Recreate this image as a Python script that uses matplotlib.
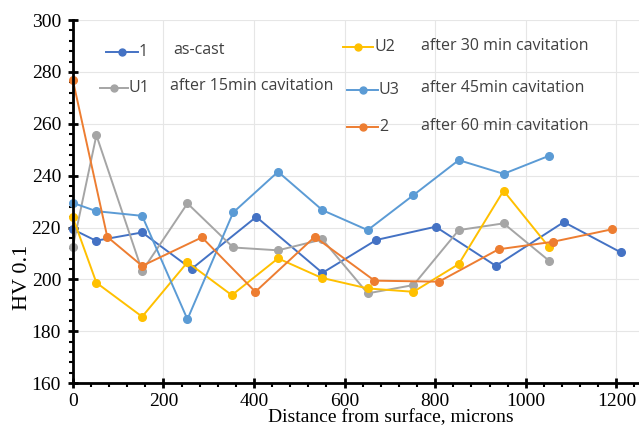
import numpy as np
import matplotlib.pyplot as plt
from matplotlib.lines import Line2D
from matplotlib.ticker import MultipleLocator

# readings (distance in microns, HV 0.1)
x_1 = [0, 51, 153, 262, 405, 551, 670, 801, 934, 1084, 1210]
hv_1 = [219.3, 214.9, 218.1, 204.0, 224.1, 202.5, 215.2, 220.3, 205.2, 222.1, 210.4]

x_u1 = [0, 52, 153, 253, 354, 453, 551, 651, 752, 852, 951, 1052]
hv_u1 = [212.6, 255.6, 203.2, 229.3, 212.3, 211.2, 215.4, 194.6, 197.8, 219.0, 221.6, 207.1]

x_u2 = [0, 52, 153, 253, 351, 453, 549, 651, 752, 852, 951, 1052]
hv_u2 = [223.9, 198.7, 185.6, 206.6, 193.9, 208.1, 200.6, 196.5, 195.2, 205.9, 234.2, 212.3]

x_u3 = [0, 52, 153, 253, 354, 453, 551, 651, 752, 852, 951, 1052]
hv_u3 = [229.5, 226.3, 224.5, 184.6, 225.8, 241.5, 226.7, 219.0, 232.5, 246.0, 240.7, 247.7]

x_2 = [0, 76, 153, 285, 403, 534, 666, 808, 940, 1060, 1190]
hv_2 = [276.9, 216.4, 205.2, 216.2, 195.2, 216.4, 199.5, 199.1, 211.6, 214.5, 219.3]

names = ["1", "U1", "U2", "U3", "2"]
notes = ["as-cast", "after 15min cavitation", "after 30 min cavitation",
         "after 45min cavitation", "after 60 min cavitation"]
colors = ["#4472C4", "#A5A5A5", "#FFC000", "#5B9BD5", "#ED7D31"]

series = [(x_1, hv_1), (x_u1, hv_u1), (x_u2, hv_u2), (x_u3, hv_u3), (x_2, hv_2)]

W, H = 639, 428
fig = plt.figure(figsize=(W / 100, H / 100), dpi=100)
ax = fig.add_axes([0.114, 0.105, 0.886, 0.848])

for (xs, ys), c, n in zip(series, colors, names):
    ax.plot(xs, ys, color=c, lw=1.4, marker="o", ms=5.5, label=n, clip_on=False)

ax.set_xlim(0, 1250)
ax.set_ylim(160, 300)
ax.xaxis.set_major_locator(MultipleLocator(200))
ax.xaxis.set_minor_locator(MultipleLocator(40))
ax.yaxis.set_major_locator(MultipleLocator(20))
ax.yaxis.set_minor_locator(MultipleLocator(4))
ax.grid(True, color="#e6e6e6", lw=0.8)
ax.set_axisbelow(True)

for s in ["top", "right"]:
    ax.spines[s].set_visible(False)
for s in ["left", "bottom"]:
    ax.spines[s].set_linewidth(2)

ax.tick_params(which="major", direction="inout", length=7, width=2)
ax.tick_params(which="minor", direction="out", length=3, width=1.5)

serif = "Liberation Serif"
for lab in ax.get_xticklabels() + ax.get_yticklabels():
    lab.set_fontfamily(serif)
    lab.set_fontsize(14)
ax.tick_params(axis="x", pad=4)
ax.tick_params(axis="y", pad=5)
ax.set_xlabel("Distance from surface, microns", family=serif, fontsize=14)
ax.xaxis.set_label_coords(0.562, -0.072)
ax.set_ylabel("HV 0.1", family=serif, fontsize=16)
ax.yaxis.set_label_coords(-0.072, 0.29)

# legend drawn by hand: handle, short name, description (figure pixels)
leg_font = {"family": "Open Sans", "size": 11.5}
handle_x = [(106, 138), (100, 128), (343, 373), (347, 378), (347, 378)]
rows_y = [52, 88, 47, 90, 127]
desc_x = [173, 170, 421, 421, 421]
for i in range(len(names)):
    (x0, x1), py = handle_x[i], rows_y[i]
    fy = 1 - py / H
    fig.add_artist(Line2D([x0 / W, x1 / W], [fy, fy], color=colors[i], lw=1.4,
                          transform=fig.transFigure))
    fig.add_artist(Line2D([(x0 + x1) / 2 / W], [fy], color=colors[i], marker="o",
                          ms=5, transform=fig.transFigure))
    fig.text((x1 + 1) / W, fy, names[i], fontdict=leg_font, va="center", ha="left",
             color="#404040")
    fig.text(desc_x[i] / W, fy + 1.5 / H, notes[i], fontdict=leg_font, va="center",
             ha="left", color="#404040")

fig.savefig("out.png", dpi=100)
